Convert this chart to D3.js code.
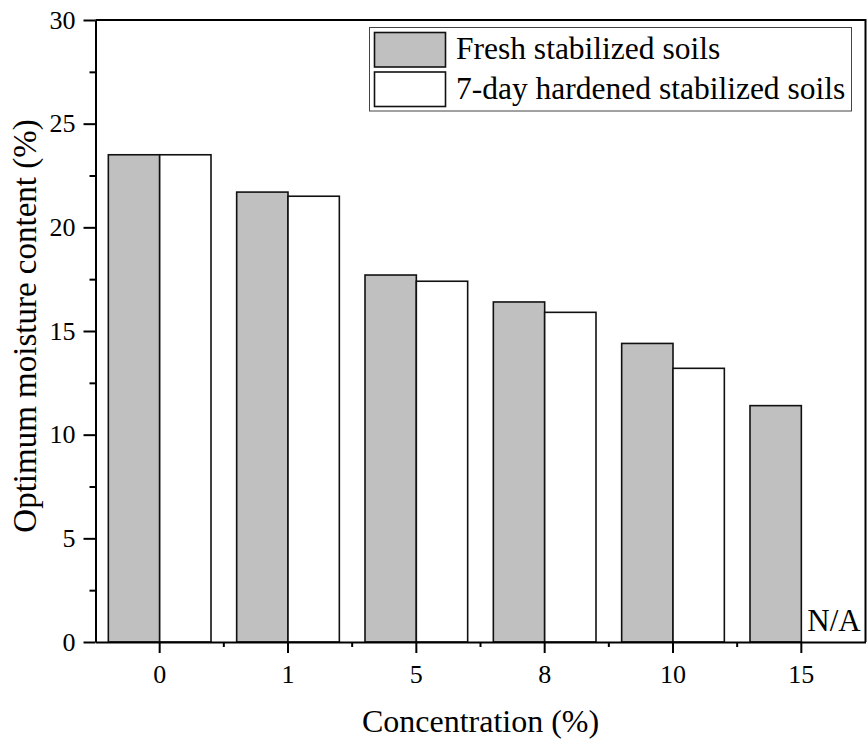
<!DOCTYPE html>
<html>
<head>
<meta charset="utf-8">
<script src="https://cdn.jsdelivr.net/npm/d3@7"></script>
<style>
  html, body { margin: 0; padding: 0; background: #fff; }
  svg { display: block; font-family: "Liberation Serif", "Times New Roman", serif; }
</style>
</head>
<body>
<svg id="chart" width="867" height="742"></svg>
<script>
// Concentration levels on the x axis
const categories = ["0", "1", "5", "8", "10", "15"];
// Optimum moisture content (%) for each group
const freshValues = [23.5, 21.7, 17.7, 16.4, 14.4, 11.4];
const hardenedValues = [23.5, 21.5, 17.4, 15.9, 13.2, null];
const seriesNames = ["Fresh stabilized soils", "7-day hardened stabilized soils"];
const seriesFills = ["#c0c0c0", "#ffffff"];
const yMajorTicks = [0, 5, 10, 15, 20, 25, 30];
const yMinorTicks = [2.5, 7.5, 12.5, 17.5, 22.5, 27.5];

const serif = "Liberation Serif, Times New Roman, serif";
const svg = d3.select("#chart");
const plot = { left: 95.5, right: 865.5, top: 20, bottom: 642 };

const x = d3.scaleBand()
  .domain(categories)
  .range([plot.left, plot.right])
  .paddingInner(0.2)
  .paddingOuter(0.1);

const sub = d3.scaleBand()
  .domain([0, 1])
  .range([0, x.bandwidth()])
  .padding(0);

const y = d3.scaleLinear().domain([0, 30]).range([plot.bottom, plot.top]);

// Bars
const rows = categories.map((c, i) => ({ cat: c, vals: [freshValues[i], hardenedValues[i]] }));
const groups = svg.append("g").selectAll("g")
  .data(rows).join("g")
  .attr("transform", d => `translate(${x(d.cat)},0)`);

groups.selectAll("rect")
  .data(d => d.vals.map((v, k) => ({ v, k })).filter(e => e.v != null))
  .join("rect")
  .attr("x", e => sub(e.k))
  .attr("y", e => y(e.v))
  .attr("width", sub.bandwidth())
  .attr("height", e => y(0) - y(e.v))
  .attr("fill", e => seriesFills[e.k])
  .attr("stroke", "#111")
  .attr("stroke-width", 1.6);

// N/A note for the missing hardened value at 15 %
svg.append("text")
  .attr("x", x("15") + sub(1) + 6)
  .attr("y", y(0) - 11)
  .attr("font-family", serif)
  .attr("font-size", 31)
  .attr("fill", "#000")
  .text("N/A");

// Frame: top and right lines
svg.append("path")
  .attr("d", `M${plot.left},${plot.top}H${plot.right}V${plot.bottom}`)
  .attr("fill", "none")
  .attr("stroke", "#000")
  .attr("stroke-width", 2);

// Y axis
const yAxis = svg.append("g")
  .attr("transform", `translate(${plot.left},0)`)
  .call(d3.axisLeft(y).tickValues(yMajorTicks).tickSize(12).tickPadding(8).tickSizeOuter(0));
const yMinor = svg.append("g")
  .attr("transform", `translate(${plot.left},0)`)
  .call(d3.axisLeft(y).tickValues(yMinorTicks).tickSize(6).tickFormat("").tickSizeOuter(0));
yMinor.select(".domain").remove();

// X axis: major ticks at group centres, minor ticks between groups
const xAxis = svg.append("g")
  .attr("transform", `translate(0,${plot.bottom})`)
  .call(d3.axisBottom(x).tickSize(11).tickPadding(12).tickSizeOuter(0));
const boundaries = d3.range(1, categories.length).map(i => x(categories[i]) - x.step() * x.paddingInner() / 2);
svg.append("g")
  .selectAll("line")
  .data(boundaries).join("line")
  .attr("x1", d => d).attr("x2", d => d)
  .attr("y1", plot.bottom).attr("y2", plot.bottom + 5)
  .attr("stroke", "#000").attr("stroke-width", 2);

[yAxis, yMinor, xAxis].forEach(g => {
  g.attr("font-family", serif);
  g.selectAll(".domain").attr("stroke", "#000").attr("stroke-width", 2);
  g.selectAll(".tick line").attr("stroke", "#000").attr("stroke-width", 2);
  g.selectAll(".tick text")
    .attr("font-family", serif)
    .attr("font-size", 26)
    .attr("fill", "#000");
});

// Axis titles
svg.append("text")
  .attr("x", (plot.left + plot.right) / 2)
  .attr("y", 732)
  .attr("text-anchor", "middle")
  .attr("font-family", serif)
  .attr("font-size", 32)
  .text("Concentration (%)");

svg.append("text")
  .attr("transform", "translate(36,326) rotate(-90)")
  .attr("text-anchor", "middle")
  .attr("font-family", serif)
  .attr("font-size", 33)
  .text("Optimum moisture content (%)");

// Legend
const legend = svg.append("g");
legend.append("rect")
  .attr("x", 369.5).attr("y", 27.5)
  .attr("width", 482).attr("height", 83.5)
  .attr("fill", "#fff")
  .attr("stroke", "#444")
  .attr("stroke-width", 1);
seriesNames.forEach((name, k) => {
  const top = 32.5 + k * 39.5;
  legend.append("rect")
    .attr("x", 374.5).attr("y", top)
    .attr("width", 71).attr("height", 34.5)
    .attr("fill", seriesFills[k])
    .attr("stroke", "#111")
    .attr("stroke-width", 1.6);
  legend.append("text")
    .attr("x", 456)
    .attr("y", top + 26.5)
    .attr("font-family", serif)
    .attr("font-size", 31.5)
    .attr("fill", "#000")
    .text(name);
});
</script>
</body>
</html>
